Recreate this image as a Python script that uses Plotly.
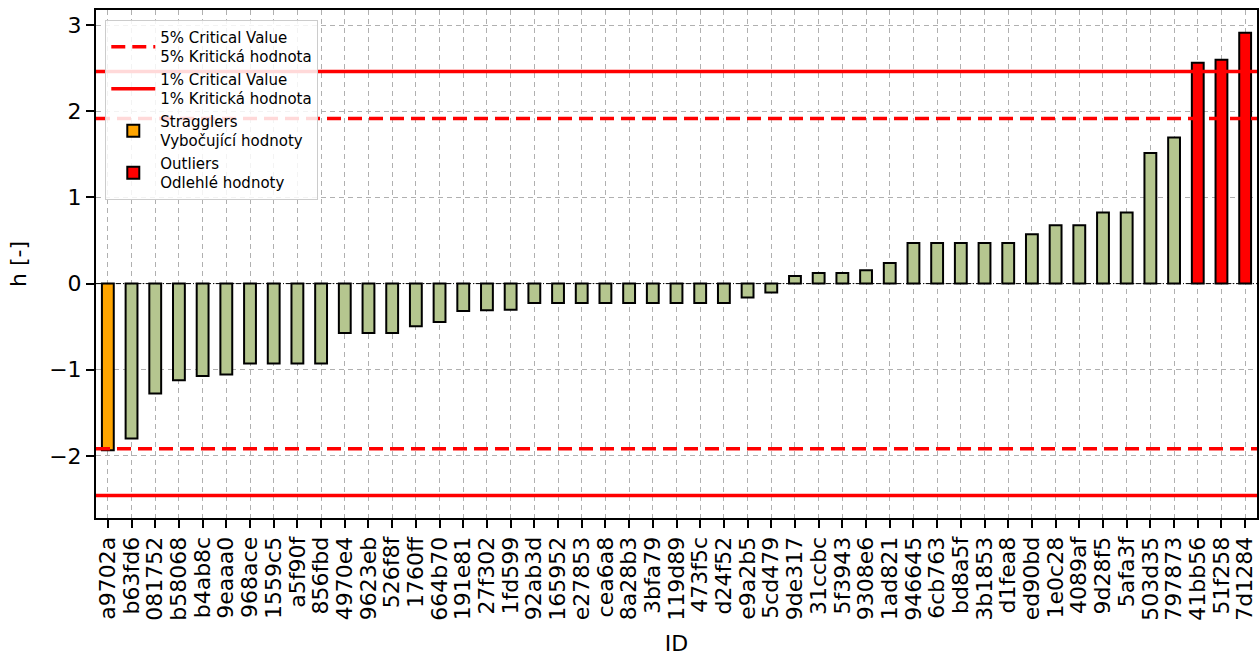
import plotly.graph_objects as go

ids = ["a9702a", "b63fd6", "081752", "b58068", "b4ab8c", "9eaaa0", "968ace", "1559c5",
       "a5f90f", "856fbd", "4970e4", "9623eb", "526f8f", "1760ff", "664b70", "191e81",
       "27f302", "1fd599", "92ab3d", "165952", "e27853", "cea6a8", "8a28b3", "3bfa79",
       "119d89", "473f5c", "d24f52", "e9a2b5", "5cd479", "9de317", "31ccbc", "5f3943",
       "9308e6", "1ad821", "946645", "6cb763", "bd8a5f", "3b1853", "d1fea8", "ed90bd",
       "1e0c28", "4089af", "9d28f5", "5afa3f", "503d35", "797873", "41bb56", "51f258",
       "7d1284"]
h_values = [-1.934, -1.798, -1.276, -1.122, -1.072, -1.056, -0.928, -0.928,
            -0.928, -0.928, -0.573, -0.573, -0.573, -0.495, -0.445, -0.318,
            -0.310, -0.302, -0.225, -0.225, -0.225, -0.225, -0.225, -0.225,
            -0.225, -0.225, -0.225, -0.162, -0.104, 0.088, 0.123, 0.123,
            0.154, 0.239, 0.471, 0.471, 0.471, 0.471, 0.471, 0.572,
            0.676, 0.676, 0.824, 0.824, 1.515, 1.694, 2.564, 2.599,
            2.912]
crit_5 = 1.917
crit_1 = 2.46

normal_x, normal_y, strag_x, strag_y, out_x, out_y = [], [], [], [], [], []
for i, v in zip(ids, h_values):
    if abs(v) > crit_1:
        out_x.append(i); out_y.append(v)
    elif abs(v) > crit_5:
        strag_x.append(i); strag_y.append(v)
    else:
        normal_x.append(i); normal_y.append(v)

FONT = "DejaVu Sans"
fig = go.Figure()
edge = dict(color="black", width=2)
fig.add_trace(go.Bar(x=normal_x, y=normal_y, width=0.5, marker=dict(color="#b5c68f", line=edge),
                     showlegend=False, name="normal"))
fig.add_trace(go.Bar(x=strag_x, y=strag_y, width=0.5, marker=dict(color="#ffa500", line=edge),
                     name="Stragglers<br>Vybočující hodnoty", legendrank=3))
fig.add_trace(go.Bar(x=out_x, y=out_y, width=0.5, marker=dict(color="#ff0000", line=edge),
                     name="Outliers<br>Odlehlé hodnoty", legendrank=4))

# zero line
fig.add_shape(type="line", xref="paper", x0=0, x1=1, yref="y", y0=0, y1=0,
              line=dict(color="black", width=1, dash="5px,2px,1px,2px"), layer="above")
# critical lines
for k, sign in enumerate([1, -1]):
    fig.add_shape(type="line", xref="paper", x0=0, x1=1, yref="y", y0=sign * crit_5, y1=sign * crit_5,
                  line=dict(color="#ff0000", width=3.5, dash="14px,7px"), layer="above",
                  showlegend=(k == 0), name="5% Critical Value<br>5% Kritická hodnota",
                  legendgroup="c5", legendrank=1)
for k, sign in enumerate([1, -1]):
    fig.add_shape(type="line", xref="paper", x0=0, x1=1, yref="y", y0=sign * crit_1, y1=sign * crit_1,
                  line=dict(color="#ff0000", width=3.5), layer="above",
                  showlegend=(k == 0), name="1% Critical Value<br>1% Kritická hodnota",
                  legendgroup="c1", legendrank=2)

fig.update_layout(
    width=1260, height=656,
    margin=dict(l=96, r=3, t=10, b=138),
    plot_bgcolor="white", paper_bgcolor="white",
    barmode="overlay",
    font=dict(family=FONT, size=22, color="black"),
    legend=dict(x=0.008, y=0.981, xanchor="left", yanchor="top",
                bgcolor="rgba(255,255,255,0.85)", bordercolor="#cccccc", borderwidth=1,
                font=dict(size=15, family=FONT), tracegroupgap=0, itemwidth=44),
)
fig.update_xaxes(
    type="category", categoryorder="array", categoryarray=ids, range=[-0.5, len(ids) - 0.5],
    tickmode="array", tickvals=ids, ticktext=ids,
    tickangle=-90, ticks="outside", ticklen=8, tickwidth=2, tickcolor="black",
    tickfont=dict(size=22, family=FONT),
    showgrid=True, gridcolor="#b0b0b0", gridwidth=1, griddash="5px,4px",
    showline=True, linecolor="black", linewidth=2, mirror=True,
    title=dict(text="ID", standoff=28, font=dict(size=22, family=FONT)),
    automargin=False,
)
fig.update_yaxes(
    range=[-2.72, 3.175], tickvals=[-2, -1, 0, 1, 2, 3],
    ticks="outside", ticklen=8, tickwidth=2, tickcolor="black",
    tickfont=dict(size=22, family=FONT),
    showgrid=True, gridcolor="#b0b0b0", gridwidth=1, griddash="5px,4px",
    zeroline=False,
    showline=True, linecolor="black", linewidth=2, mirror=True,
    title=dict(text="h [-]", standoff=16, font=dict(size=22, family=FONT)),
    automargin=False,
)

fig.write_html("out.html", config={"displayModeBar": False},
               post_script="document.body.style.margin='0';")
